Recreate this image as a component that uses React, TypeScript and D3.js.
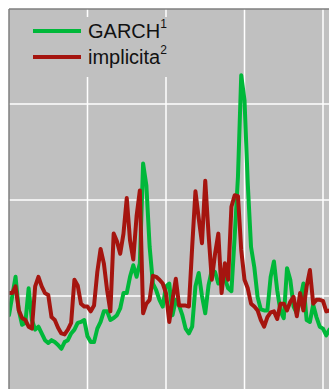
import React from "react"
import * as d3 from "d3"

// volatility, sampled at regular steps (24 steps between vertical gridlines)
const garch = [
  8.0, 10.0, 12.0, 8.5, 7.0, 7.2, 10.8, 7.5, 6.5, 6.8,
  6.1, 5.4, 5.1, 5.4, 5.2, 4.9, 4.5, 5.2, 5.4, 6.1,
  6.5, 7.2, 7.3, 7.5, 5.8, 5.2, 5.2, 6.6, 7.3, 8.4,
  8.4, 7.5, 7.7, 8.0, 8.7, 10.3, 10.3, 12.0, 13.2, 12.0,
  13.4, 23.8, 21.5, 15.1, 11.3, 10.6, 9.6, 8.9, 11.0, 11.3,
  8.0, 9.6, 9.0, 8.0, 6.6, 6.1, 6.8, 11.0, 12.4, 10.0,
  8.2, 11.1, 12.7, 12.5, 11.3, 11.7, 11.8, 10.8, 10.5, 16.2,
  22.4, 33.0, 30.4, 21.7, 15.1, 13.0, 9.9, 8.6, 8.5, 8.5,
  12.0, 13.6, 10.6, 8.4, 7.7, 12.9, 11.7, 8.9, 8.2, 9.6,
  11.3, 7.5, 7.3, 9.1, 7.8, 6.8, 6.6, 5.9, 6.5,
]
const implicita = [
  10.3, 10.3, 11.0, 8.5, 7.7, 7.5, 6.8, 6.6, 11.0, 12.0,
  11.0, 10.3, 10.1, 7.8, 7.5, 6.7, 6.1, 6.0, 6.5, 7.2,
  11.7, 11.1, 9.2, 8.9, 8.9, 8.4, 9.0, 12.5, 14.9, 13.4,
  10.6, 8.4, 16.5, 15.7, 14.4, 16.5, 20.2, 15.8, 13.8, 18.3,
  21.0, 8.2, 9.2, 9.6, 12.1, 12.0, 11.7, 11.3, 10.3, 7.3,
  9.6, 11.8, 9.0, 9.0, 9.0, 8.9, 15.1, 20.9, 18.1, 15.5,
  22.0, 16.5, 11.7, 14.4, 16.5, 10.3, 13.4, 11.7, 19.3, 20.5,
  20.4, 14.8, 11.7, 10.8, 9.2, 8.9, 8.5, 7.5, 6.8, 7.8,
  8.3, 8.4, 7.6, 9.2, 9.2, 8.5, 9.4, 9.9, 7.9, 10.3,
  8.5, 11.0, 12.7, 9.2, 9.6, 9.6, 9.5, 8.4, 8.5,
]
const xTicks = [24, 48, 72, 96]
const yTicks = [10, 20, 30]

const series = [
  { name: "GARCH", sup: "1", values: garch, color: "#00b83a" },
  { name: "implicita", sup: "2", values: implicita, color: "#a5150f" },
]

export default function App() {
  const width = 329
  const height = 389
  const left = 9
  const top = 9

  const x = d3.scaleLinear().domain([0, 96]).range([left, left + 314])
  const y = d3.scaleLinear().domain([0, 40]).range([392, 8])

  const line = d3.line<number>()
    .x((_, i) => x(i))
    .y(d => y(d))

  return (
    <svg
      width={width}
      height={height}
      style={{ position: "absolute", left: 0, top: 0, background: "#fff" }}
      fontFamily="'Liberation Sans', Arial, sans-serif"
    >
      <defs>
        <clipPath id="plot">
          <rect x={left} y={top} width={width - left} height={height - top} />
        </clipPath>
      </defs>
      <rect x={left} y={top} width={width - left} height={height - top} fill="#c0c0c0" />

      {xTicks.map(t => (
        <line key={"x" + t} x1={x(t)} x2={x(t)} y1={top} y2={height} stroke="#fff" strokeWidth={1.5} />
      ))}
      {yTicks.map(t => (
        <line key={"y" + t} x1={left} x2={width} y1={y(t)} y2={y(t)} stroke="#fff" strokeWidth={1.5} />
      ))}

      {/* legend box hides the gridlines */}
      <rect x={20} y={17} width={160} height={60} fill="#c0c0c0" />

      <g clipPath="url(#plot)">
        {series.map(s => (
          <path
            key={s.name}
            d={line(s.values) || ""}
            fill="none"
            stroke={s.color}
            strokeWidth={4}
            strokeLinejoin="round"
            strokeLinecap="round"
          />
        ))}
      </g>

      <line x1={left} x2={width} y1={top} y2={top} stroke="#7f7f7f" strokeWidth={1.5} />
      <line x1={left} x2={left} y1={top} y2={height} stroke="#7f7f7f" strokeWidth={1.5} />

      {series.map((s, i) => {
        const ly = 31 + i * 26
        return (
          <g key={"leg" + s.name}>
            <line x1={33} x2={81} y1={ly} y2={ly} stroke={s.color} strokeWidth={4} />
            <text x={88} y={ly + 7} fontSize={20} fill="#111">
              {s.name}
              <tspan fontSize={12} dy={-10}>{s.sup}</tspan>
            </text>
          </g>
        )
      })}
    </svg>
  )
}
